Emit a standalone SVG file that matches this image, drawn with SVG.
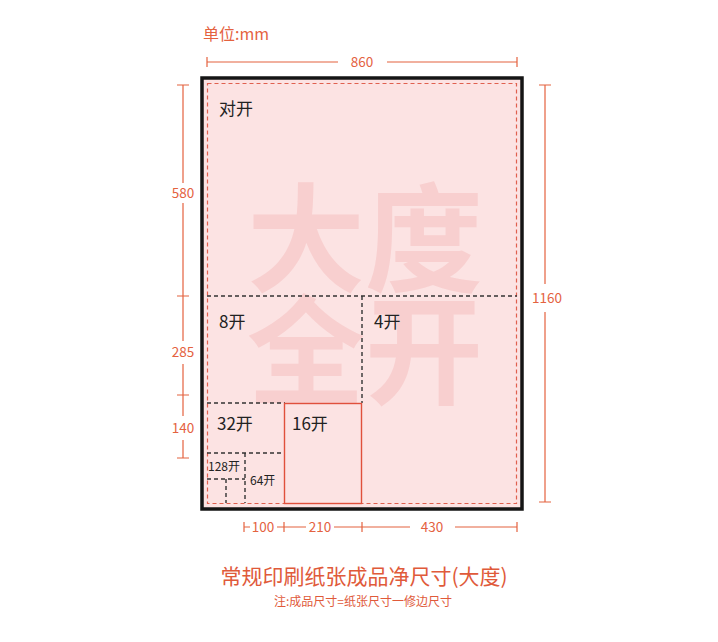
<svg xmlns="http://www.w3.org/2000/svg" width="718" height="642" viewBox="0 0 718 642">
<style>
text{font-family:"Noto Sans CJK SC","Noto Sans",sans-serif}
.dim{stroke:#e4623f;stroke-width:1.2;fill:none}
.dt{fill:#e4623f;font-size:13.5px;text-anchor:middle}
.cut{stroke:#333;stroke-width:1.4;stroke-dasharray:4 3;fill:none}
.lbl{fill:#222;font-size:17px}
.sm{fill:#222;font-size:12px}
.wm{fill:#f8cfcf;font-size:118px;font-weight:bold;text-anchor:middle}
</style>
<rect width="718" height="642" fill="#fff"/>
<text x="203" y="40" fill="#e4623f" font-size="16">单位:mm</text>
<g id="sheet">
<rect x="202" y="78" width="320" height="431" fill="#fce3e3" stroke="#151515" stroke-width="3.5"/>
<text class="wm" x="365" y="283">大度</text>
<text class="wm" x="365" y="395">全开</text>
<rect x="207.5" y="83.5" width="309" height="420" fill="none" stroke="#e0604f" stroke-width="1.2" stroke-dasharray="4 3"/>
</g>
<g id="cuts">
<path class="cut" d="M207 296H517M362 296V403M207 403H285M207 453H285M245 453V503M207 479H245M226 479V503"/>
<rect x="284.5" y="403.5" width="77" height="100" fill="none" stroke="#e0503c" stroke-width="1.4"/>
</g>
<g id="labels">
<text class="lbl" x="219" y="115">对开</text>
<text class="lbl" x="219" y="328">8开</text>
<text class="lbl" x="374" y="328">4开</text>
<text class="lbl" x="217" y="430">32开</text>
<text class="lbl" x="292" y="430">16开</text>
<text class="sm" x="208" y="471">128开</text>
<text class="sm" x="250" y="485">64开</text>
</g>
<g id="dimensions">
<path class="dim" d="M207 62H338M387 62H517M207 57V67M517 57V67"/>
<text class="dt" x="362" y="67">860</text>
<path class="dim" d="M183 85V183M183 203V341M183 364V416M183 440V458M177 85H189M177 296H189M177 395H189M177 458H189"/>
<text class="dt" x="183" y="198">580</text>
<text class="dt" x="183" y="357">285</text>
<text class="dt" x="183" y="433">140</text>
<path class="dim" d="M545 85V284M545 312V502M539 85H551M539 502H551"/>
<text class="dt" x="547" y="303">1160</text>
<path class="dim" d="M244 527H250M277 527H306M334 527H410M455 527H517M244 522V532M284 522V532M362 522V532M517 522V532"/>
<text class="dt" x="263" y="532">100</text>
<text class="dt" x="320" y="532">210</text>
<text class="dt" x="432" y="532">430</text>
</g>
<text x="364" y="584" fill="#e05a3a" font-size="21" text-anchor="middle">常规印刷纸张成品净尺寸(大度)</text>
<text x="363" y="606" fill="#e05a3a" font-size="12" text-anchor="middle">注:成品尺寸=纸张尺寸一修边尺寸</text>
</svg>
